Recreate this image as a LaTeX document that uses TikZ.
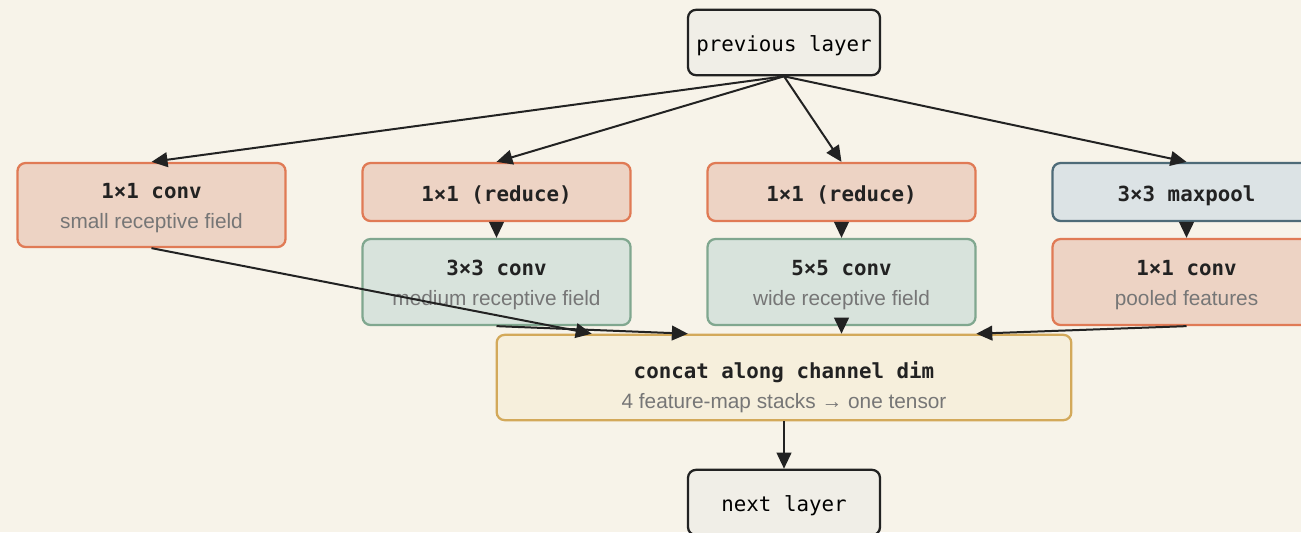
\documentclass[tikz,border=0pt]{standalone}
\usepackage{fontspec}
\setsansfont{Liberation Sans}
\setmonofont{DejaVu Sans Mono}
\usetikzlibrary{arrows.meta,calc}

\definecolor{paper}{HTML}{F7F3E9}
\definecolor{ink}{HTML}{222222}
\definecolor{note}{HTML}{767676}
\definecolor{plainfill}{HTML}{F0EEE7}
\definecolor{convfill}{HTML}{EDD3C4}
\definecolor{convline}{HTML}{E07A55}
\definecolor{widefill}{HTML}{D8E3DC}
\definecolor{wideline}{HTML}{80A78F}
\definecolor{poolfill}{HTML}{DCE3E5}
\definecolor{poolline}{HTML}{4E6B78}
\definecolor{catfill}{HTML}{F6EFDC}
\definecolor{catline}{HTML}{D3A95A}

% bold mono title (first line), with a strut that sets its height
\newcommand{\ttl}[2][16pt]{{\rule{0pt}{#1}\ttfamily\bfseries\color{ink}#2}}
\newcommand{\sub}[1]{{\sffamily\color{note}#1}}

\begin{document}
\begin{tikzpicture}[x=0.75pt,y=-0.75pt,
    font=\fontsize{15.6}{18}\selectfont,
    box/.style={draw, rounded corners=6pt, line width=1.7pt, inner sep=0pt,
      align=center, minimum width=201pt},
    oneline/.style={text height=17pt, text depth=3.2pt},
    io/.style={box, oneline, draw=ink, fill=plainfill, minimum width=144pt, minimum height=49pt,
      font=\fontsize{15.6}{18}\selectfont\ttfamily},
    conv/.style={box, draw=convline, fill=convfill},
    wide/.style={box, draw=wideline, fill=widefill},
    pool/.style={box, draw=poolline, fill=poolfill},
    cat/.style={box, draw=catline, fill=catfill, minimum width=431pt, minimum height=64pt},
    flow/.style={-{Triangle[length=12pt,width=11pt]}, line width=1.5pt, draw=ink}]

  \useasboundingbox[fill=paper] (0,0) rectangle (1301,532);

  % input and output
  \node[io] (prev) at (784,42.5) {previous layer};
  \node[io] (next) at (784,502.5) {next layer};

  % the four branches
  \node[conv, minimum height=63pt] (small) at (151.5,205)
    {\ttl{1×1 conv}\\[4.5pt]\sub{small receptive field}};
  \node[conv, oneline, minimum height=43.5pt] (redA) at (496.5,192) {\ttl[0pt]{1×1 (reduce)}};
  \node[wide, minimum height=64.5pt] (conv3) at (496.5,282)
    {\ttl{3×3 conv}\\[4.5pt]\sub{medium receptive field}};
  \node[conv, oneline, minimum height=43.5pt] (redB) at (841.5,192) {\ttl[0pt]{1×1 (reduce)}};
  \node[wide, minimum height=64.5pt] (conv5) at (841.5,282)
    {\ttl{5×5 conv}\\[4.5pt]\sub{wide receptive field}};
  \node[pool, oneline, minimum height=43.5pt] (maxp) at (1186.5,192) {\ttl[0pt]{3×3 maxpool}};
  \node[conv, minimum height=64.5pt] (pconv) at (1186.5,282)
    {\ttl{1×1 conv}\\[4.5pt]\sub{pooled features}};

  % merge
  \node[cat] (concat) at (784,377.5)
    {\ttl[26.5pt]{concat along channel dim}\\[4.5pt]\sub{4 feature-map stacks → one tensor}};

  % fan out
  \draw[flow] (prev.south) -- (small.north);
  \draw[flow] (prev.south) -- (redA.north);
  \draw[flow] (prev.south) -- (redB.north);
  \draw[flow] (prev.south) -- (maxp.north);
  \draw[flow] (redA) -- (conv3);
  \draw[flow] (redB) -- (conv5);
  \draw[flow] (maxp) -- (pconv);

  % fan in
  \draw[flow] (small.south) -- ($(concat.north west)!1/6!(concat.north east)$);
  \draw[flow] (conv3.south) -- ($(concat.north west)!1/3!(concat.north east)$);
  \draw[flow] (conv5.south) -- (conv5.south |- concat.north);
  \draw[flow] (pconv.south) -- ($(concat.north west)!5/6!(concat.north east)$);
  \draw[flow] (concat) -- (next);
\end{tikzpicture}
\end{document}
